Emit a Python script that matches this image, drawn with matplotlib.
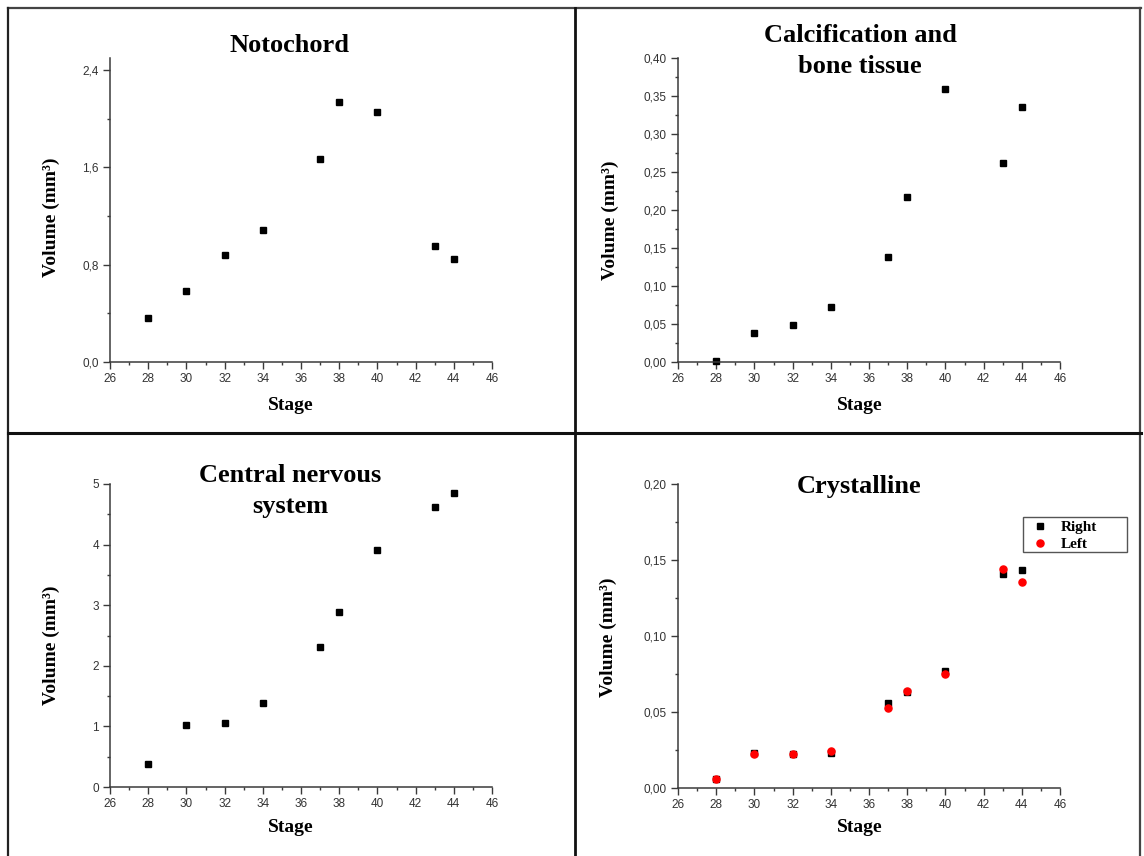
import matplotlib
matplotlib.use("Agg")
import matplotlib.pyplot as plt
from matplotlib.lines import Line2D
from matplotlib.patches import Rectangle
from matplotlib.ticker import MultipleLocator

# ---------------- data ----------------
stages = [28, 30, 32, 34, 37, 38, 40, 43, 44]

notochord = [0.365, 0.587, 0.883, 1.083, 1.673, 2.137, 2.054, 0.957, 0.845]
calcification = [0.001, 0.038, 0.049, 0.072, 0.138, 0.217, 0.359, 0.262, 0.335]
cns = [0.379, 1.022, 1.049, 1.385, 2.308, 2.885, 3.918, 4.621, 4.846]
crystalline_right = [0.0057, 0.0232, 0.0225, 0.0232, 0.0561, 0.0633, 0.0771, 0.1409, 0.1433]
crystalline_left = [0.0057, 0.0225, 0.0225, 0.0241, 0.0526, 0.0635, 0.0747, 0.1439, 0.1356]

x_ticks = [26, 28, 30, 32, 34, 36, 38, 40, 42, 44, 46]
x_ticklabels = ["26", "28", "30", "32", "34", "36", "38", "40", "42", "44", "46"]

noto_yticks = [0.0, 0.8, 1.6, 2.4]
noto_ylabels = ["0,0", "0,8", "1,6", "2,4"]
calc_yticks = [0.00, 0.05, 0.10, 0.15, 0.20, 0.25, 0.30, 0.35, 0.40]
calc_ylabels = ["0,00", "0,05", "0,10", "0,15", "0,20", "0,25", "0,30", "0,35", "0,40"]
cns_yticks = [0, 1, 2, 3, 4, 5]
cns_ylabels = ["0", "1", "2", "3", "4", "5"]
crys_yticks = [0.00, 0.05, 0.10, 0.15, 0.20]
crys_ylabels = ["0,00", "0,05", "0,10", "0,15", "0,20"]

titles = ["Notochord", "Calcification and\nbone tissue", "Central nervous\nsystem", "Crystalline"]
legend_labels = ["Right", "Left"]

# ---------------- figure ----------------
W, H = 1144, 856
fig = plt.figure(figsize=(W / 100, H / 100), dpi=100)
fig.patch.set_facecolor("white")

SERIF = ["Liberation Serif", "DejaVu Serif"]
SANS = ["Liberation Sans", "DejaVu Sans"]
SPINE_C = "#3a3a3a"
TICK_C = "#333333"


def px_axes(x0, x1, ytop, ybot):
    return fig.add_axes([x0 / W, 1 - ybot / H, (x1 - x0) / W, (ybot - ytop) / H])


def style(ax, ylim, yticks, ylabels, yminor):
    ax.set_xlim(26, 46)
    ax.set_ylim(*ylim)
    ax.set_xticks(x_ticks)
    ax.set_xticklabels(x_ticklabels)
    ax.xaxis.set_minor_locator(MultipleLocator(1))
    ax.set_yticks(yticks)
    ax.set_yticklabels(ylabels)
    ax.yaxis.set_minor_locator(MultipleLocator(yminor))
    for s in ["top", "right"]:
        ax.spines[s].set_visible(False)
    for s in ["left", "bottom"]:
        ax.spines[s].set_color(SPINE_C)
        ax.spines[s].set_linewidth(1.1)
    ax.tick_params(which="major", direction="out", length=5, width=1.0,
                   color=SPINE_C, labelsize=8.5, labelcolor=TICK_C, pad=3)
    ax.tick_params(which="minor", direction="out", length=2.5, width=1.0, color=SPINE_C)
    for lab in ax.get_xticklabels() + ax.get_yticklabels():
        lab.set_family(SANS)
    ax.set_xlabel("Stage", family=SERIF, fontweight="bold", fontsize=14)
    ax.set_ylabel("Volume (mm³)", family=SERIF, fontweight="bold", fontsize=14)
    ax.patch.set_alpha(0)


def place_labels(ax, x0, x1, ytop, ybot, xlab_px, ylab_px):
    w, h = x1 - x0, ybot - ytop
    ax.xaxis.label.set_va("center")
    ax.xaxis.set_label_coords((xlab_px[0] - x0) / w, (ybot - xlab_px[1]) / h)
    ax.yaxis.label.set_va("center")
    ax.yaxis.set_label_coords((ylab_px[0] - x0) / w, (ybot - ylab_px[1]) / h)


MS = 4.5

# Panel 1: Notochord
b1 = (110, 492, 58, 362)
ax1 = px_axes(*b1)
ax1.plot(stages, notochord, "s", color="black", ms=MS, clip_on=False)
style(ax1, (0, 2.5), noto_yticks, noto_ylabels, 0.4)
place_labels(ax1, *b1, (291, 405), (51, 217))

# Panel 2: Calcification
b2 = (678, 1060, 58, 362)
ax2 = px_axes(*b2)
ax2.plot(stages, calcification, "s", color="black", ms=MS, clip_on=False)
style(ax2, (0, 0.40), calc_yticks, calc_ylabels, 0.025)
place_labels(ax2, *b2, (860, 405), (610, 220))

# Panel 3: CNS
b3 = (110, 492, 484, 787)
ax3 = px_axes(*b3)
ax3.plot(stages, cns, "s", color="black", ms=MS, clip_on=False)
style(ax3, (0, 5), cns_yticks, cns_ylabels, 0.5)
place_labels(ax3, *b3, (291, 827), (51, 645))

# Panel 4: Crystalline
b4 = (678, 1060, 484, 788)
ax4 = px_axes(*b4)
ax4.plot(stages, crystalline_right, "s", color="black", ms=MS, clip_on=False,
         label=legend_labels[0])
ax4.plot(stages, crystalline_left, "o", color="#ff0000", ms=MS + 0.6, clip_on=False,
         label=legend_labels[1])
style(ax4, (0, 0.20), crys_yticks, crys_ylabels, 0.025)
place_labels(ax4, *b4, (860, 827), (608, 637))

LEG_FS = 11
leg = ax4.legend(loc="upper left",
                 bbox_to_anchor=(1033 / W, 1 - 520.5 / H),
                 bbox_transform=fig.transFigure,
                 frameon=False,
                 prop={"family": SERIF, "weight": "bold", "size": LEG_FS},
                 handlelength=0.9, handletextpad=0.95, borderpad=0.0,
                 labelspacing=0.22, borderaxespad=0)
fig.add_artist(Rectangle((1023 / W, 1 - 552 / H), (1127 - 1023) / W, 35 / H,
                         transform=fig.transFigure, fill=False,
                         edgecolor="#555555", lw=1.0))

# Titles
title_pos = [(290, 45), (860, 51), (290, 491), (859, 487)]
for t, (tx, ty) in zip(titles, title_pos):
    fig.text(tx / W, 1 - ty / H, t, ha="center", va="center", family=SERIF,
             fontweight="bold", fontsize=19, linespacing=1.4)

# Panel frame lines
def hline(y, x0, x1, c, lw):
    fig.add_artist(Line2D([x0 / W, x1 / W], [1 - y / H, 1 - y / H],
                          transform=fig.transFigure, color=c, lw=lw))


def vline(x, y0, y1, c, lw):
    fig.add_artist(Line2D([x / W, x / W], [1 - y0 / H, 1 - y1 / H],
                          transform=fig.transFigure, color=c, lw=lw))


hline(8, 8, 1141, "#444444", 1.6)
vline(8, 8, 856, "#222222", 1.6)
vline(1140, 8, 856, "#444444", 1.6)
vline(575, 8, 856, "#111111", 2.0)
hline(433, 8, 1141, "#111111", 2.2)

fig.savefig("out.png", dpi=100)
